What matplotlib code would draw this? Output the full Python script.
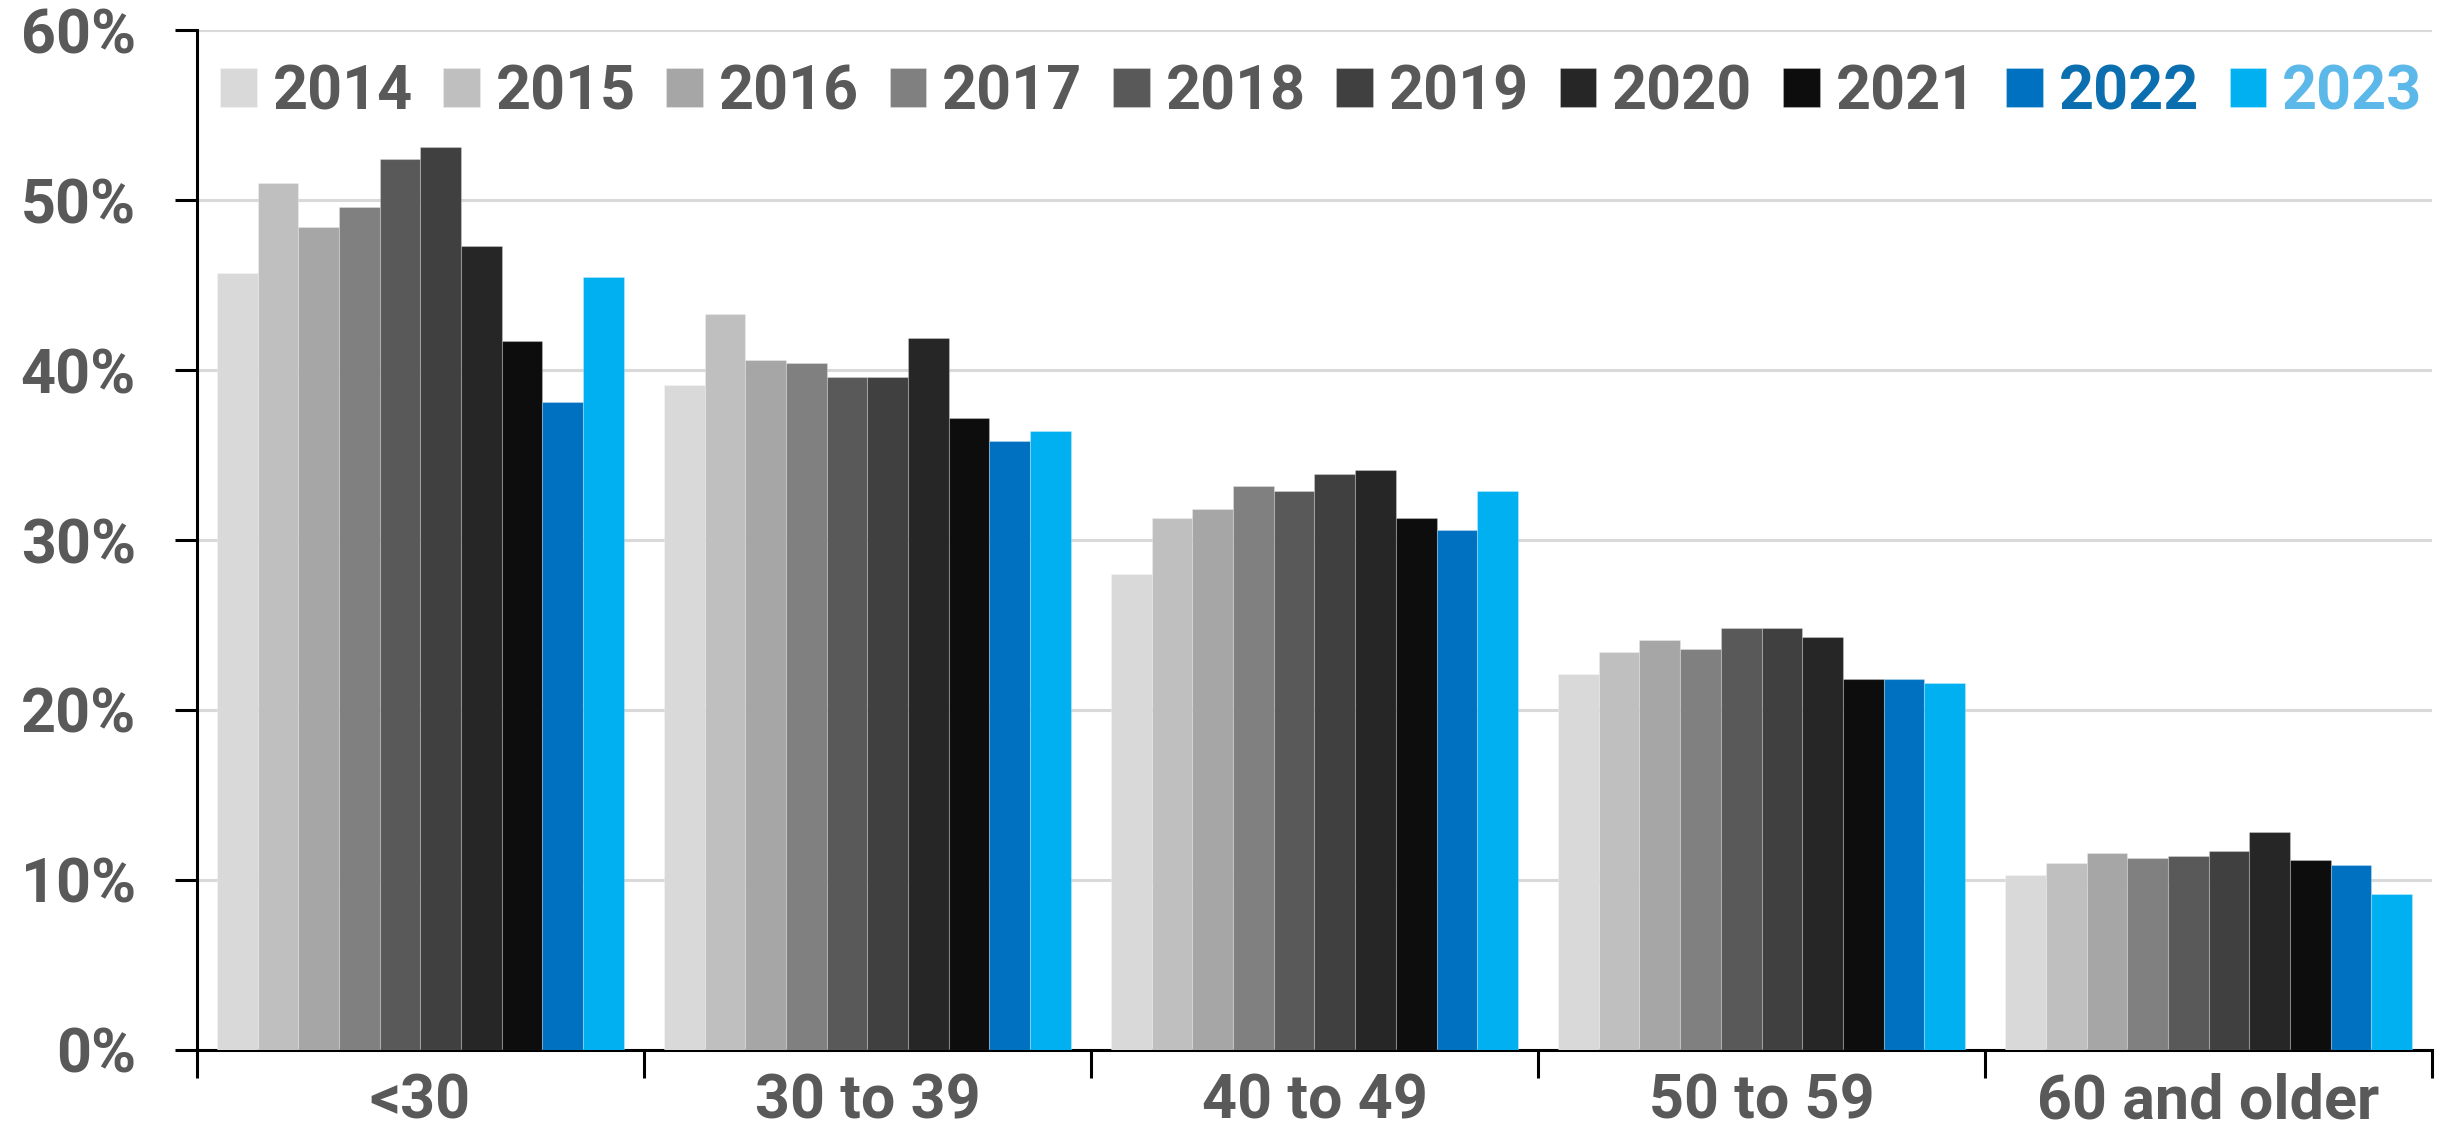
import numpy as np
import matplotlib.pyplot as plt
from matplotlib.ticker import PercentFormatter

# data (percent)
groups = ["<30", "30 to 39", "40 to 49", "50 to 59", "60 and older"]
years = ["2014", "2015", "2016", "2017", "2018", "2019", "2020", "2021", "2022", "2023"]
v2014 = [45.7, 39.1, 28.0, 22.1, 10.3]
v2015 = [51.0, 43.3, 31.3, 23.4, 11.0]
v2016 = [48.4, 40.6, 31.8, 24.1, 11.6]
v2017 = [49.6, 40.4, 33.2, 23.6, 11.3]
v2018 = [52.4, 39.6, 32.9, 24.8, 11.4]
v2019 = [53.1, 39.6, 33.9, 24.8, 11.7]
v2020 = [47.3, 41.9, 34.1, 24.3, 12.8]
v2021 = [41.7, 37.2, 31.3, 21.8, 11.2]
v2022 = [38.1, 35.8, 30.6, 21.8, 10.9]
v2023 = [45.5, 36.4, 32.9, 21.6, 9.2]
series = [v2014, v2015, v2016, v2017, v2018, v2019, v2020, v2021, v2022, v2023]

colors = ["#D9D9D9", "#BFBFBF", "#A6A6A6", "#808080", "#595959",
          "#404040", "#262626", "#0D0D0D", "#0070C0", "#00B0F0"]
text_grey = "#595959"
legend_text_colors = [text_grey] * 8 + ["#0B6FAF", "#5CB8E8"]

plt.rcParams["font.family"] = ["Roboto", "DejaVu Sans"]
plt.rcParams["font.weight"] = "bold"

fig = plt.figure(figsize=(24.46, 11.29), dpi=100)
ax = fig.add_axes([0.0805, 0.070, 0.9138, 0.9034])

x = np.arange(len(groups))
w = 0.091
for i, vals in enumerate(series):
    ax.bar(x + (i - 4.5) * w, vals, width=w, color=colors[i], label=years[i],
           edgecolor=(1, 1, 1, 0.25), linewidth=0.8, zorder=3)

ax.set_xlim(-0.5, 4.5)
ax.set_ylim(0, 60)
ax.set_yticks(range(0, 61, 10))
ax.yaxis.set_major_formatter(PercentFormatter(decimals=0))
ax.grid(axis="y", color="#D9D9D9", linewidth=2.2, zorder=0)
ax.set_axisbelow(True)

# category labels centred, ticks at the boundaries
ax.set_xticks(x)
ax.set_xticklabels(groups)
ax.set_xticks(np.arange(-0.5, 5, 1), minor=True)
ax.tick_params(axis="x", which="major", length=0, pad=16, labelsize=44, labelcolor=text_grey)
ax.tick_params(axis="x", which="minor", length=20, width=2.2, direction="out", color="black")
ax.tick_params(axis="y", length=16, width=2.2, direction="out", pad=28,
               labelsize=44, labelcolor=text_grey)

for s in ["top", "right"]:
    ax.spines[s].set_visible(False)
for s in ["left", "bottom"]:
    ax.spines[s].set_linewidth(2.2)
    ax.spines[s].set_color("black")

leg = ax.legend(loc="center", bbox_to_anchor=(0.503, 0.939), ncol=10, frameon=False,
                fontsize=44, handlelength=0.6, handleheight=0.6, handletextpad=0.26,
                columnspacing=0.5, borderaxespad=0, borderpad=0)
for t, c in zip(leg.get_texts(), legend_text_colors):
    t.set_color(c)
    t.set_fontweight("bold")

fig.savefig("out.png", dpi=100)
